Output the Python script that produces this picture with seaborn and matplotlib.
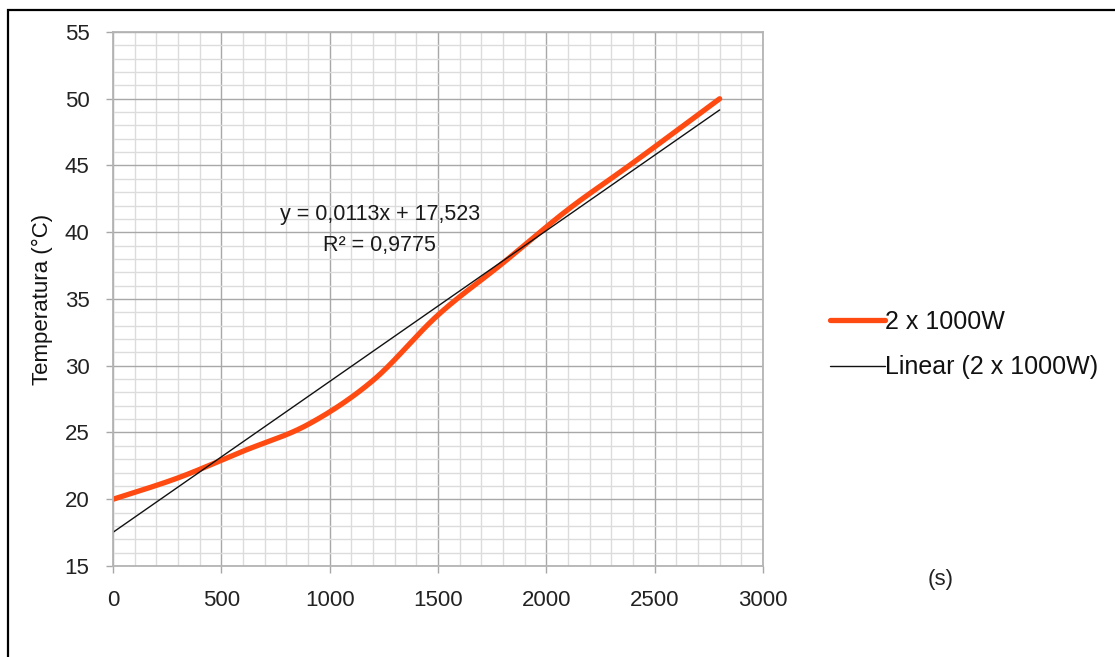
import numpy as np
import pandas as pd
import matplotlib
matplotlib.use("Agg")
import matplotlib.pyplot as plt
from matplotlib.patches import Rectangle
from matplotlib.ticker import MultipleLocator
import seaborn as sns

# ---- data ----
time_s = [0, 300, 600, 900, 1200, 1500, 1800, 2100, 2400, 2800]
temp_c = [20.0, 21.6, 23.6, 25.6, 28.9, 33.8, 37.7, 41.7, 45.2, 50.0]
series_name = "2 x 1000W"
trend_name = "Linear (2 x 1000W)"
trend_slope = 0.0113
trend_intercept = 17.523
equation_text = "y = 0,0113x + 17,523"
r2_text = "R² = 0,9775"
x_ticks = [0, 500, 1000, 1500, 2000, 2500, 3000]
y_ticks = [15, 20, 25, 30, 35, 40, 45, 50, 55]


def catmull_rom(xs, ys, n=40):
    """Excel-like smoothed line rendering through the given points."""
    P = np.column_stack([xs, ys]).astype(float)
    P = np.vstack([P[0], P, P[-1]])
    out = []
    for i in range(1, len(P) - 2):
        p0, p1, p2, p3 = P[i - 1], P[i], P[i + 1], P[i + 2]
        t = np.linspace(0, 1, n, endpoint=False)[:, None]
        seg = 0.5 * ((2 * p1) + (-p0 + p2) * t + (2 * p0 - 5 * p1 + 4 * p2 - p3) * t ** 2
                     + (-p0 + 3 * p1 - 3 * p2 + p3) * t ** 3)
        out.append(seg)
    out.append(P[-2][None, :])
    return np.vstack(out)


sns.set_theme(style="white")
plt.rcParams["font.family"] = ["Liberation Sans", "DejaVu Sans"]

fig = plt.figure(figsize=(11.15, 6.57), dpi=100)
ax = fig.add_axes([113 / 1115, 1 - 566 / 657, (763 - 113) / 1115, (566 - 32) / 657])

smooth = catmull_rom(time_s, temp_c)
df_smooth = pd.DataFrame({"t": smooth[:, 0], "T": smooth[:, 1]})
sns.lineplot(data=df_smooth, x="t", y="T", ax=ax, color="#FF4A12", lw=3.8,
             sort=False, estimator=None, label=series_name, solid_capstyle="round")

trend_x = np.array([time_s[0], time_s[-1]], dtype=float)
trend_df = pd.DataFrame({"t": trend_x, "T": trend_slope * trend_x + trend_intercept})
sns.lineplot(data=trend_df, x="t", y="T", ax=ax, color="#111111", lw=1.0,
             estimator=None, label=trend_name)

ax.set_xlim(0, 3000)
ax.set_ylim(15, 55)
ax.set_xticks(x_ticks)
ax.set_yticks(y_ticks)
ax.xaxis.set_minor_locator(MultipleLocator(100))
ax.yaxis.set_minor_locator(MultipleLocator(1))
ax.grid(which="minor", color="#DCDCDC", lw=1.0)
ax.grid(which="major", color="#A8A8A8", lw=1.0)
ax.set_axisbelow(True)
for side in ["top", "right", "left", "bottom"]:
    ax.spines[side].set_visible(True)
    ax.spines[side].set_color("#B4B4B4")
    ax.spines[side].set_linewidth(1.3)

ax.tick_params(which="major", direction="out", length=5, width=1, color="#A8A8A8",
               labelsize=16, labelcolor="#222222", left=True, bottom=True)
ax.tick_params(axis="y", which="major", pad=12)
ax.tick_params(axis="x", which="major", pad=12)
ax.tick_params(which="minor", length=0)
ax.set_xlabel("")
ax.set_ylabel("Temperatura (°C)", fontsize=16, color="#111111", labelpad=8)

ax.text(1232, 41.3, equation_text, ha="center", va="center", fontsize=15.5, color="#1a1a1a")
ax.text(1232, 39.0, r2_text, ha="center", va="center", fontsize=15.5, color="#1a1a1a")

fig.text(941 / 1115, 1 - 580 / 657, "(s)", ha="center", va="center", fontsize=16, color="#222222")

leg = ax.legend(loc="upper left", bbox_to_anchor=(830 / 1115, 1 - 310 / 657),
                bbox_transform=fig.transFigure, frameon=False, fontsize=18,
                handlelength=2.2, handletextpad=0.0, labelspacing=0.85, borderpad=0,
                borderaxespad=0)
for t in leg.get_texts():
    t.set_color("#111111")

fig.add_artist(Rectangle((8 / 1115, -0.2), 1.2, 1.2 - 10 / 657, transform=fig.transFigure,
                         fill=False, ec="black", lw=1.6))

fig.savefig("out.png", dpi=100)
